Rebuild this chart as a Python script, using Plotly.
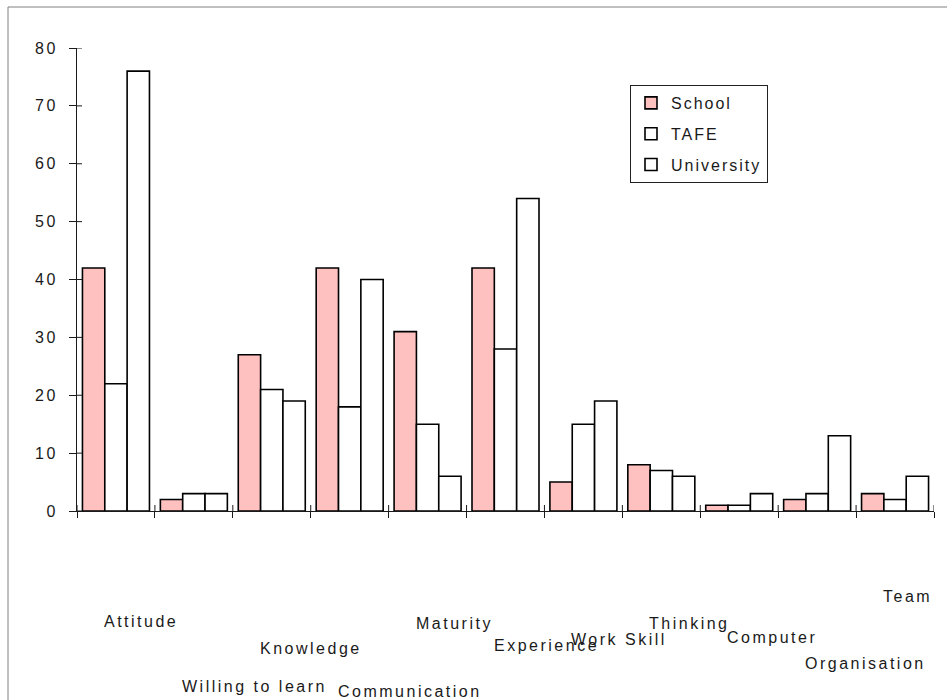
import plotly.graph_objects as go

# Survey counts by attribute and by education sector
categories = ["Attitude", "Willing to learn", "Knowledge", "Communication", "Maturity",
              "Experience", "Work Skill", "Thinking", "Computer", "Organisation", "Team"]
school = [42, 2, 27, 42, 31, 42, 5, 8, 1, 2, 3]
tafe = [22, 3, 21, 18, 15, 28, 15, 7, 1, 3, 2]
university = [76, 3, 19, 40, 6, 54, 19, 6, 3, 13, 6]
y_ticks = [0, 10, 20, 30, 40, 50, 60, 70, 80]

# how far (px) each category caption sits below the x axis (staggered layout)
label_drop = [110, 175, 137, 180, 112, 134, 128, 112, 126, 152, 85]

W, H = 947, 700
ML, MR, MT, MB = 77, 13, 48, 189
PW, PH = W - ML - MR, H - MT - MB

FONT = "Liberation Sans, Arial, sans-serif"
INK = "#1a1a1a"


def spaced(text, ls=2.5):
    return f'<span style="letter-spacing:{ls}px">{text}</span>'


idx = list(range(len(categories)))
bar_line = dict(color="black", width=1.6)

fig = go.Figure()
fig.add_trace(go.Bar(x=idx, y=school, name=spaced("School", 2), legendgroup="a",
                     marker=dict(color="#FFC0C0", line=bar_line)))
fig.add_trace(go.Bar(x=idx, y=tafe, name=spaced("TAFE", 2), legendgroup="b",
                     marker=dict(color="white", line=bar_line)))
fig.add_trace(go.Bar(x=idx, y=university, name=spaced("University", 2), legendgroup="c",
                     marker=dict(color="white", line=bar_line)))

bounds = [i - 0.5 for i in range(len(categories) + 1)]
xr = [-0.5, len(categories) - 0.5]

annotations = []
for i, (name, drop) in enumerate(zip(categories, label_drop)):
    annotations.append(dict(
        x=i - 0.5, xref="x", xshift=25, xanchor="left",
        y=0, yref="paper", yanchor="middle", yshift=-drop,
        text=spaced(name), showarrow=False,
        font=dict(family=FONT, size=16, color=INK)))

# outer frame
shapes = [dict(type="rect", xref="paper", yref="paper",
               x0=(8 - ML) / PW, x1=(W + 4 - ML) / PW,
               y0=-(H + 4 - MT - PH) / PH, y1=(MT + PH - 7) / PH,
               line=dict(color="#808080", width=1), fillcolor="rgba(0,0,0,0)", layer="below")]
# inner halves of the crossing tick marks (the outer halves are the axis ticks)
tick_line = dict(color=INK, width=1)
for b in bounds:
    shapes.append(dict(type="line", xref="x", yref="y", x0=b, x1=b,
                       ysizemode="pixel", yanchor=0, y0=0, y1=6, line=tick_line))
for v in y_ticks:
    shapes.append(dict(type="line", xref="x", yref="y", y0=v, y1=v,
                       xsizemode="pixel", xanchor=xr[0], x0=0, x1=5, line=tick_line))

fig.update_layout(
    width=W, height=H,
    margin=dict(l=ML, r=MR, t=MT, b=MB, pad=0),
    paper_bgcolor="white", plot_bgcolor="white",
    barmode="group", bargap=0.14, bargroupgap=0,
    font=dict(family=FONT, size=16, color=INK),
    showlegend=True,
    legend=dict(
        x=(630 - ML) / PW, y=(MT + PH - 85) / PH, xanchor="left", yanchor="top",
        bordercolor="#222", borderwidth=1, bgcolor="white",
        font=dict(family=FONT, size=16, color=INK),
        traceorder="grouped", tracegroupgap=7, itemwidth=30),
    xaxis=dict(range=xr, showline=True, linecolor=INK, linewidth=1,
               ticks="outside", tickvals=bounds, ticklen=6, tickcolor=INK, tickwidth=1,
               showticklabels=False, showgrid=False, zeroline=False),
    yaxis=dict(range=[0, 80], showline=True, linecolor=INK, linewidth=1,
               ticks="outside", tickvals=y_ticks, ticktext=[spaced(str(v)) for v in y_ticks],
               ticklen=7, tickcolor=INK, tickwidth=1, ticklabelstandoff=8,
               tickfont=dict(family=FONT, size=16, color=INK),
               showgrid=False, zeroline=False),
    annotations=annotations,
    shapes=shapes,
)

fig.write_html("out.html")
